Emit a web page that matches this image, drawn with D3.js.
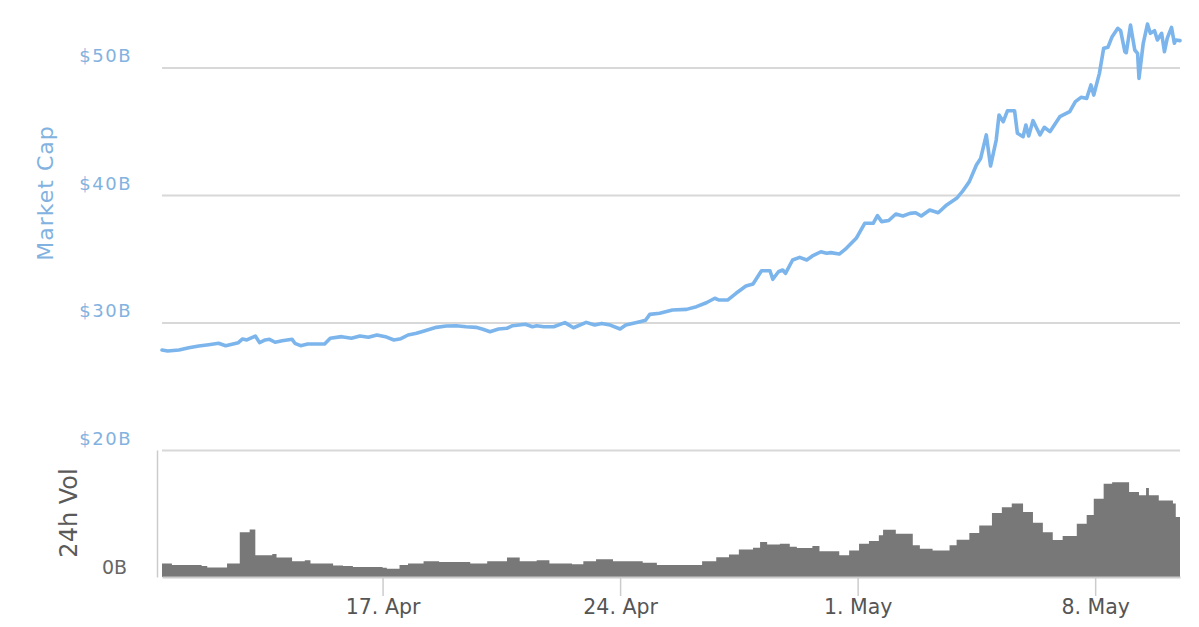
<!DOCTYPE html>
<html><head><meta charset="utf-8">
<script src="https://cdn.jsdelivr.net/npm/d3@7"></script>
<style>
body{margin:0;background:#fff;}
svg{display:block;font-family:"DejaVu Sans",sans-serif;}
</style>
</head><body>
<svg id="c" width="1199" height="627"></svg>
<script>
// Market cap series (2017, UTC hour), values in $B
const capTimes = [
"04-10 12","04-10 16","04-11 00","04-11 07","04-11 14","04-11 21","04-12 04","04-12 09","04-12 18","04-12 21",
"04-13 00","04-13 06","04-13 09","04-13 13","04-13 16","04-13 20","04-14 01","04-14 08","04-14 10","04-14 14",
"04-14 19","04-15 07","04-15 11","04-15 19","04-16 02","04-16 08","04-16 14","04-16 20","04-17 02","04-17 08",
"04-17 13","04-17 18","04-18 00","04-18 06","04-18 14","04-18 21","04-19 04","04-19 11","04-19 18","04-19 23",
"04-20 04","04-20 10","04-20 16","04-20 20","04-21 05","04-21 10","04-21 13","04-21 18","04-22 01","04-22 09",
"04-22 15","04-23 00","04-23 06","04-23 11","04-23 17","04-24 00","04-24 04","04-24 14","04-24 18","04-24 21",
"04-25 04","04-25 13","04-25 23","04-26 06","04-26 13","04-26 19","04-26 22","04-27 04","04-27 10","04-27 17",
"04-27 22","04-28 04","04-28 10","04-28 12","04-28 16","04-28 19","04-28 21","04-29 02","04-29 07","04-29 12",
"04-29 16","04-29 22","04-30 02","04-30 05","04-30 11","04-30 16","04-30 23","05-01 05","05-01 11","05-01 14",
"05-01 17","05-01 22","05-02 03","05-02 08","05-02 13","05-02 17","05-02 21","05-03 03","05-03 09","05-03 15",
"05-03 22","05-04 02","05-04 07","05-04 12","05-04 15","05-04 19","05-04 22","05-05 02","05-05 04","05-05 07",
"05-05 10","05-05 15","05-05 17","05-05 21","05-05 23","05-06 01","05-06 04","05-06 09","05-06 12","05-06 16",
"05-06 23","05-07 06","05-07 10","05-07 14","05-07 18","05-07 21","05-07 23","05-08 03","05-08 06","05-08 09",
"05-08 12","05-08 16","05-08 18","05-08 21","05-08 22","05-09 01","05-09 04","05-09 06","05-09 07","05-09 10",
"05-09 13","05-09 15","05-09 18","05-09 20","05-09 23","05-10 01","05-10 03","05-10 06","05-10 08","05-10 09",
"05-10 12"];
const capValues = [
27.84,27.76,27.84,28.02,28.16,28.26,28.37,28.18,28.42,28.71,
28.63,28.94,28.42,28.63,28.68,28.45,28.57,28.68,28.37,28.18,
28.31,28.31,28.76,28.89,28.76,28.94,28.84,29.02,28.89,28.63,
28.73,29.02,29.15,29.36,29.62,29.73,29.75,29.67,29.62,29.47,
29.28,29.49,29.55,29.75,29.86,29.67,29.75,29.67,29.67,29.99,
29.59,30.01,29.80,29.93,29.80,29.49,29.80,30.06,30.17,30.64,
30.72,30.98,31.03,31.24,31.55,31.90,31.76,31.76,32.29,32.86,
33.02,34.06,34.06,33.39,33.98,34.12,33.86,34.90,35.11,34.90,
35.22,35.55,35.43,35.48,35.37,35.82,36.60,37.78,37.78,38.38,
37.91,38.00,38.51,38.35,38.56,38.61,38.35,38.82,38.61,39.22,
39.74,40.26,41.05,42.35,42.87,44.71,42.27,44.31,46.27,45.75,
46.61,46.61,44.84,44.57,45.49,44.63,45.83,44.71,45.31,44.97,
46.14,46.54,47.32,47.66,47.58,48.63,47.84,49.54,51.50,51.58,
52.42,53.07,52.89,51.24,51.16,53.33,51.37,51.11,49.15,51.90,
53.41,52.68,52.89,52.16,52.68,51.24,52.30,53.15,51.90,52.16,
52.11];

// 24h volume (step series), values in $B
const volTimes = [
"04-10 12","04-10 19","04-11 16","04-11 20","04-12 10","04-12 19","04-13 02","04-13 06","04-13 18","04-13 21",
"04-14 08","04-14 17","04-14 21","04-15 13","04-15 20","04-16 03","04-17 00","04-17 03","04-17 12","04-17 18",
"04-18 05","04-18 16","04-19 14","04-20 02","04-20 16","04-21 01","04-21 13","04-21 22","04-22 14","04-22 22",
"04-23 07","04-23 19","04-24 16","04-25 02","04-26 10","04-26 20","04-27 05","04-27 12","04-27 22","04-28 03",
"04-28 08","04-28 17","04-29 00","04-29 05","04-29 16","04-29 21","04-30 11","04-30 18","05-01 01","05-01 08",
"05-01 15","05-01 18","05-02 03","05-02 15","05-02 20","05-03 05","05-03 17","05-03 22","05-04 07","05-04 14",
"05-04 23","05-05 06","05-05 13","05-05 21","05-06 04","05-06 11","05-06 18","05-07 01","05-07 11","05-07 18",
"05-07 23","05-08 06","05-08 12","05-09 00","05-09 07","05-09 12","05-09 14","05-09 21","05-10 07","05-10 09",
"05-10 12"];
const volValues = [
0.34,0.30,0.28,0.24,0.34,1.13,1.20,0.55,0.58,0.49,
0.40,0.42,0.34,0.29,0.28,0.25,0.23,0.21,0.30,0.34,
0.40,0.38,0.34,0.40,0.49,0.40,0.42,0.34,0.32,0.40,
0.45,0.40,0.36,0.30,0.40,0.50,0.57,0.69,0.74,0.88,
0.82,0.84,0.76,0.73,0.78,0.65,0.55,0.67,0.84,0.91,
1.05,1.19,1.09,0.80,0.71,0.67,0.80,0.94,1.11,1.30,
1.61,1.76,1.85,1.64,1.37,1.13,0.93,1.03,1.34,1.56,
1.97,2.35,2.39,2.14,2.06,2.24,2.06,1.93,1.85,1.51,
1.51];

const capTicks = [20, 30, 40, 50];
const volTicks = [0];
const dateTicks = ["04-17 00","04-24 00","05-01 00","05-08 00"];
const xExtent = ["04-10 12","05-10 12"];

const parse = s => d3.utcParse("%Y-%m-%d %H")("2017-" + s);
const fmtDate = d3.utcFormat("%-d. %b");

const svg = d3.select("#c");
const L = 162, R = 1180;
const capTop = 67.5, capBottom = 450;
const volTop = 450, volBottom = 577;

const x = d3.scaleUtc().domain(xExtent.map(parse)).range([L, R]);
const y = d3.scaleLinear().domain([20, 50]).range([capBottom, capTop]);
const yv = d3.scaleLinear().domain([0, 3.2]).range([volBottom, volTop]);

const capData = capTimes.map((t, i) => ({t: parse(t), v: capValues[i]}));
const volData = volTimes.map((t, i) => ({t: parse(t), v: volValues[i]}));

// Market cap gridlines + labels
const gy = svg.append("g").attr("transform", `translate(${L},0)`)
  .call(d3.axisLeft(y).tickValues(capTicks).tickSize(-(R - L)).tickFormat(d => "$" + d + "B"));
gy.select(".domain").remove();
gy.selectAll(".tick line").attr("stroke", "#d8d8d8").attr("stroke-width", 2);
gy.selectAll(".tick text")
  .attr("x", -30).attr("y", -12).attr("dy", "0.35em")
  .attr("fill", "#82b2e0").attr("font-size", 18).attr("letter-spacing", 1.5)
  .attr("font-family", "DejaVu Sans, sans-serif");

// Volume area
svg.append("path").datum(volData)
  .attr("fill", "#787878")
  .attr("d", d3.area().x(d => x(d.t)).y0(volBottom).y1(d => yv(d.v)).curve(d3.curveStepAfter));

// Volume axis (left line + 0B label)
const gv = svg.append("g").attr("transform", `translate(157,0)`)
  .call(d3.axisLeft(yv).tickValues(volTicks).tickSize(0).tickSizeOuter(0).tickFormat(() => "0B"));
gv.select(".domain").attr("stroke", "#cccccc").attr("stroke-width", 1.5);
gv.selectAll(".tick text")
  .attr("x", -30).attr("y", -10).attr("dy", "0.35em")
  .attr("fill", "#666").attr("font-size", 19)
  .attr("font-family", "DejaVu Sans, sans-serif");

// X axis
const gx = svg.append("g").attr("transform", `translate(0,${volBottom})`)
  .call(d3.axisBottom(x).tickValues(dateTicks.map(parse)).tickSize(19).tickSizeOuter(0).tickFormat(fmtDate));
gx.select(".domain").attr("stroke", "#cccccc").attr("stroke-width", 2);
gx.selectAll(".tick line").attr("stroke", "#cccccc").attr("stroke-width", 1.5);
gx.selectAll(".tick text")
  .attr("y", 22).attr("dy", "0.71em")
  .attr("fill", "#555").attr("font-size", 20.5)
  .attr("font-family", "DejaVu Sans, sans-serif");

// Market cap line
svg.append("path").datum(capData)
  .attr("fill", "none").attr("stroke", "#7cb5ec").attr("stroke-width", 3.6)
  .attr("stroke-linejoin", "round").attr("stroke-linecap", "round")
  .attr("d", d3.line().x(d => x(d.t)).y(d => y(d.v)));

// Axis titles
svg.append("text").attr("transform", "translate(53,193) rotate(-90)")
  .attr("text-anchor", "middle").attr("fill", "#82b2e0").attr("font-size", 22).attr("letter-spacing", 1)
  .text("Market Cap");
svg.append("text").attr("transform", "translate(77,513) rotate(-90)")
  .attr("text-anchor", "middle").attr("fill", "#5a5a5a").attr("font-size", 24)
  .text("24h Vol");
</script>
</body></html>
